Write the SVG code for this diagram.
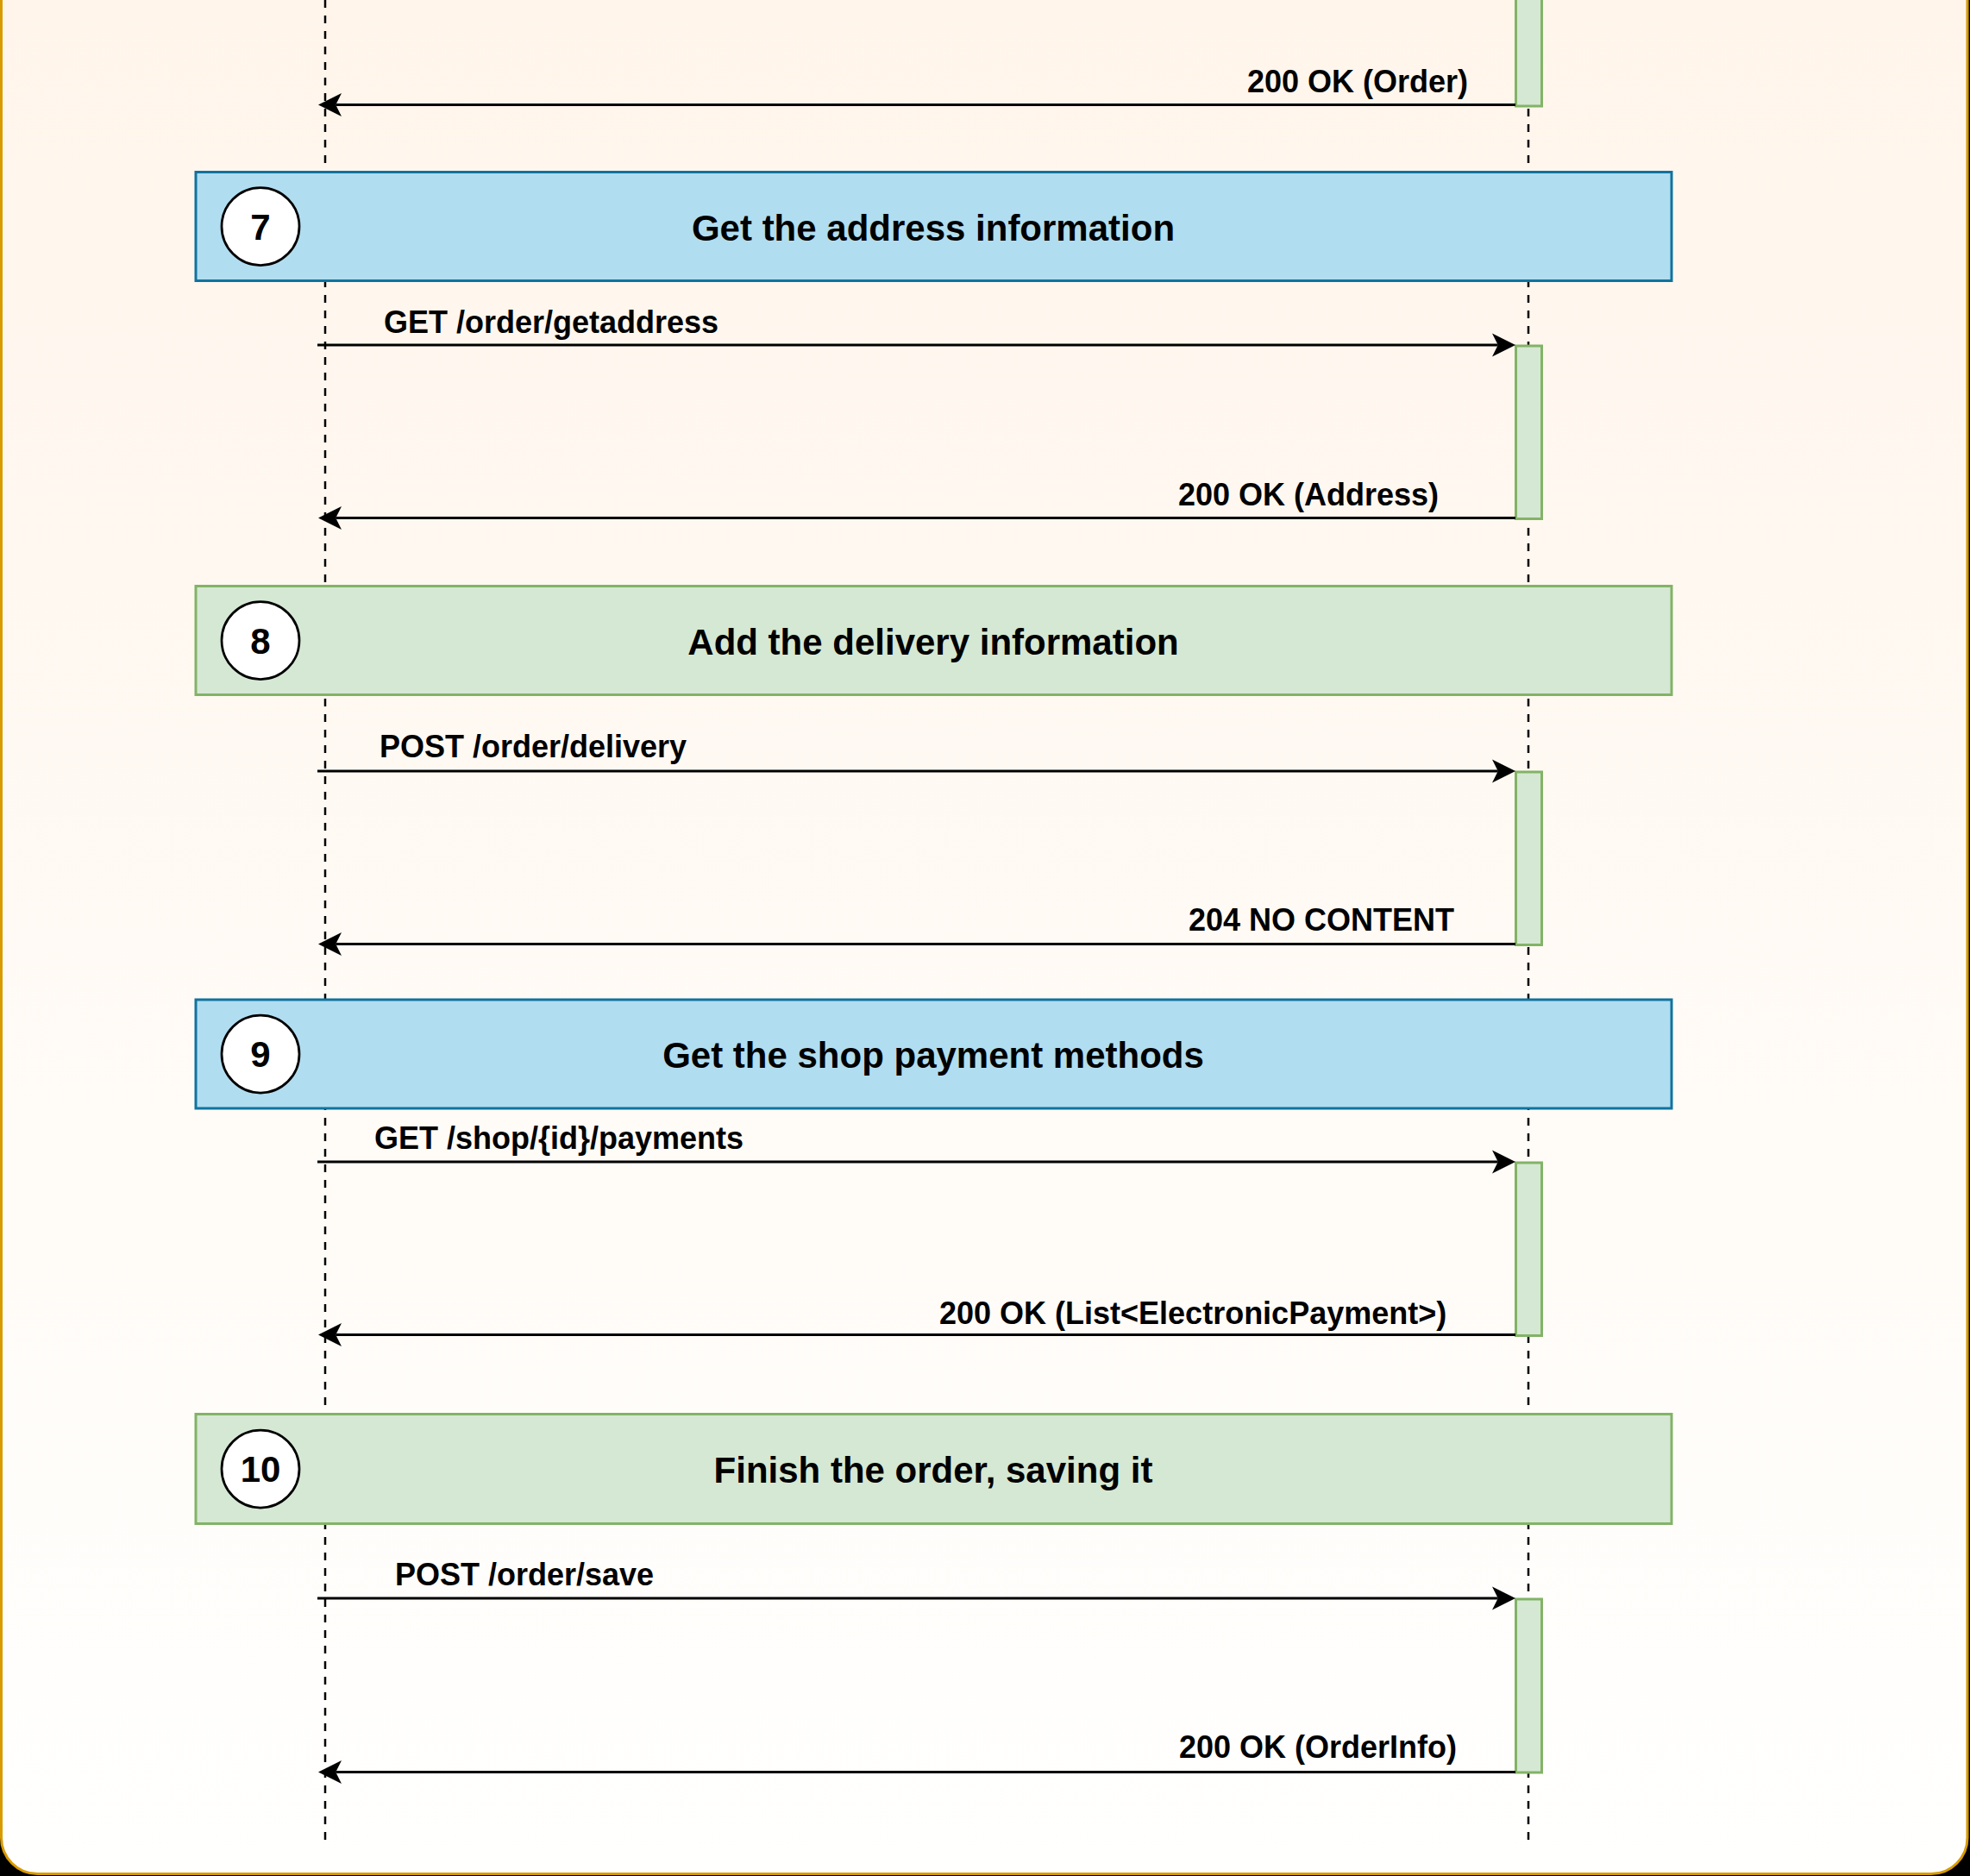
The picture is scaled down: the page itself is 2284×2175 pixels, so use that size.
<svg xmlns="http://www.w3.org/2000/svg" width="2284" height="2175" viewBox="0 0 2284 2175">
  <defs>
    <linearGradient id="frameGrad" gradientUnits="userSpaceOnUse" x1="0" y1="0" x2="0" y2="2172">
      <stop offset="0" stop-color="#fff5eb"/>
      <stop offset="1" stop-color="#fffffe"/>
    </linearGradient>
    <marker id="arrow" markerUnits="userSpaceOnUse" viewBox="-8 -15 30 30" markerWidth="30" markerHeight="30" refX="0" refY="0" orient="auto" overflow="visible">
      <path d="M20.25,0 L-6.75,-13.5 L0,0 L-6.75,13.5 Z" fill="#000000" stroke="none"/>
    </marker>
  </defs>
  <style>
    .lifeline { stroke: #000000; stroke-width: 2.5; stroke-dasharray: 9 9; fill: none; }
    .blue { fill: #b1ddf0; stroke: #10739e; stroke-width: 3; }
    .green { fill: #d5e8d4; stroke: #82b366; stroke-width: 3; }
    .bar { fill: #d5e8d4; stroke: #82b366; stroke-width: 3; }
    .num { fill: #ffffff; stroke: #000000; stroke-width: 2.75; }
    .msg { stroke: #000000; stroke-width: 3; fill: none; marker-end: url(#arrow); }
    .label { font-family: "Liberation Sans", Arial, Helvetica, sans-serif; font-weight: bold; font-size: 36px; fill: #000000; }
    .title { font-family: "Liberation Sans", Arial, Helvetica, sans-serif; font-weight: bold; font-size: 42px; fill: #000000; text-anchor: middle; }
    .numtext { font-family: "Liberation Sans", Arial, Helvetica, sans-serif; font-weight: bold; font-size: 42px; fill: #000000; text-anchor: middle; }
  </style>

  <rect x="0" y="0" width="2284" height="2175" fill="#000000"/>
  <g id="frame">
    <rect x="1.5" y="-200" width="2279.5" height="2372.5" rx="42" ry="42" fill="url(#frameGrad)" stroke="#d79b00" stroke-width="3"/>
  </g>

  <g id="lifelines">
    <line class="lifeline" x1="377" y1="0" x2="377" y2="2134"/>
    <line class="lifeline" x1="1772" y1="0" x2="1772" y2="2134"/>
  </g>

  <g id="step7">
    <rect class="blue" x="227" y="199.5" width="1711" height="126"/>
    <circle class="num" cx="302" cy="262.5" r="45"/>
    <text class="numtext" x="302" y="277.5">7</text>
    <text class="title" x="1082" y="278.5">Get the address information</text>
  </g>
  <g id="step8">
    <rect class="green" x="227" y="679.5" width="1711" height="126"/>
    <circle class="num" cx="302" cy="742.5" r="45"/>
    <text class="numtext" x="302" y="757.5">8</text>
    <text class="title" x="1082" y="758.5">Add the delivery information</text>
  </g>
  <g id="step9">
    <rect class="blue" x="227" y="1159" width="1711" height="126"/>
    <circle class="num" cx="302" cy="1222" r="45"/>
    <text class="numtext" x="302" y="1237">9</text>
    <text class="title" x="1082" y="1238">Get the shop payment methods</text>
  </g>
  <g id="step10">
    <rect class="green" x="227" y="1639.5" width="1711" height="127"/>
    <circle class="num" cx="302" cy="1703" r="45"/>
    <text class="numtext" x="302" y="1718">10</text>
    <text class="title" x="1082" y="1719">Finish the order, saving it</text>
  </g>

  <g id="activations">
    <rect class="bar" x="1757.5" y="-10" width="30" height="133"/>
    <rect class="bar" x="1757.5" y="401" width="30" height="200.5"/>
    <rect class="bar" x="1757.5" y="895" width="30" height="200.5"/>
    <rect class="bar" x="1757.5" y="1348" width="30" height="200.5"/>
    <rect class="bar" x="1757.5" y="1854" width="30" height="201"/>
  </g>

  <g id="connectors">
    <path class="msg" d="M1757,121.5 L389.25,121.5"/>
    <path class="msg" d="M368,400 L1736.75,400"/>
    <path class="msg" d="M1757,600.5 L389.25,600.5"/>
    <path class="msg" d="M368,894 L1736.75,894"/>
    <path class="msg" d="M1757,1094.5 L389.25,1094.5"/>
    <path class="msg" d="M368,1347 L1736.75,1347"/>
    <path class="msg" d="M1757,1547.5 L389.25,1547.5"/>
    <path class="msg" d="M368,1853 L1736.75,1853"/>
    <path class="msg" d="M1757,2054.5 L389.25,2054.5"/>
  </g>

  <g id="labels">
    <text class="label" x="1446" y="107">200 OK (Order)</text>
    <text class="label" x="445" y="386">GET /order/getaddress</text>
    <text class="label" x="1366" y="586">200 OK (Address)</text>
    <text class="label" x="440" y="878">POST /order/delivery</text>
    <text class="label" x="1378" y="1079">204 NO CONTENT</text>
    <text class="label" x="434" y="1332">GET /shop/{id}/payments</text>
    <text class="label" x="1089" y="1535">200 OK (List&lt;ElectronicPayment&gt;)</text>
    <text class="label" x="458" y="1838">POST /order/save</text>
    <text class="label" x="1367" y="2038">200 OK (OrderInfo)</text>
  </g>
</svg>
